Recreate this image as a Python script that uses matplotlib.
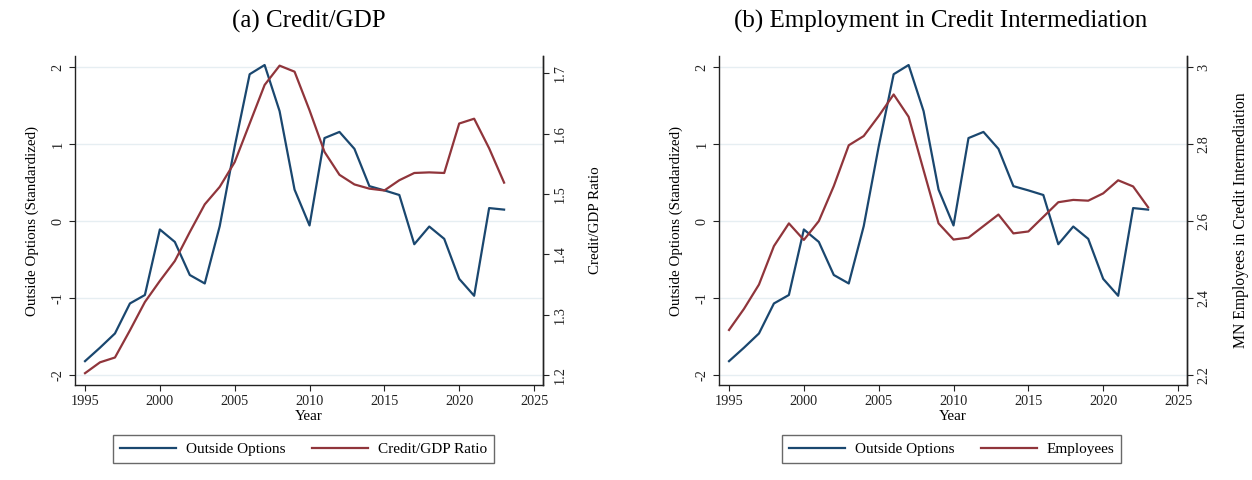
import matplotlib
matplotlib.use("Agg")
import matplotlib.pyplot as plt

plt.rcParams['font.family'] = ['Liberation Serif', 'DejaVu Serif']

years = list(range(1995, 2024))

outside_options = [-1.82, -1.645, -1.46, -1.07, -0.96, -0.108, -0.27, -0.70, -0.81, -0.065,
                   0.97, 1.91, 2.03, 1.43, 0.41, -0.056, 1.08, 1.16, 0.94, 0.455,
                   0.40, 0.34, -0.30, -0.07, -0.23, -0.75, -0.97, 0.17, 0.15]

credit_gdp = [1.203, 1.221, 1.229, 1.274, 1.321, 1.356, 1.389, 1.437, 1.483, 1.512,
              1.553, 1.617, 1.681, 1.713, 1.703, 1.639, 1.570, 1.532, 1.516, 1.509,
              1.506, 1.523, 1.535, 1.536, 1.535, 1.617, 1.625, 1.576, 1.519]

employees = [2.317, 2.372, 2.435, 2.535, 2.594, 2.551, 2.600, 2.691, 2.797, 2.821,
             2.873, 2.929, 2.871, 2.732, 2.594, 2.552, 2.557, 2.587, 2.617, 2.568,
             2.573, 2.611, 2.649, 2.655, 2.653, 2.672, 2.706, 2.690, 2.636]

x_ticks = [1995, 2000, 2005, 2010, 2015, 2020, 2025]
left_ticks = [-2, -1, 0, 1, 2]
credit_ticks = [1.2, 1.3, 1.4, 1.5, 1.6, 1.7]
employee_ticks = [2.2, 2.4, 2.6, 2.8, 3.0]

BLUE = '#1a476f'
RED = '#90353b'
GRID = '#e6eef2'
W, H = 1252, 480

fig = plt.figure(figsize=(W / 100, H / 100), dpi=100)
fig.patch.set_facecolor('white')


def px_axes(x0, y0, x1, y1):
    return fig.add_axes([x0 / W, 1 - y1 / H, (x1 - x0) / W, (y1 - y0) / H])


def style_axis(ax):
    ax.spines['top'].set_visible(False)
    for side in ('left', 'bottom', 'right'):
        ax.spines[side].set_color('#222222')
        ax.spines[side].set_linewidth(1.0)
    ax.tick_params(axis='both', direction='out', length=4.5, width=0.8,
                   colors='#222222', labelsize=10.3, pad=3)


def panel(x0, x1, title, title_x, right_vals, right_ticks, right_lim, right_label,
          right_name, right_fmt, right_size):
    ax = px_axes(x0, 56, x1, 385)
    ax.set_xlim(1994.33, 2025.6)
    ax.set_ylim(-2.13, 2.147)
    ax.set_yticks(left_ticks)
    ax.set_yticklabels([str(t) for t in left_ticks], rotation=90, va='center')
    ax.set_xticks(x_ticks)
    ax.grid(axis='y', color=GRID, linewidth=1.0)
    ax.set_axisbelow(True)
    style_axis(ax)
    l1, = ax.plot(years, outside_options, color=BLUE, linewidth=1.6, label='Outside Options')
    ax.set_xlabel('Year', fontsize=10.8, labelpad=1)
    ax.set_ylabel('Outside Options (Standardized)', fontsize=10.8, labelpad=9)

    ax2 = ax.twinx()
    ax2.set_ylim(*right_lim)
    ax2.set_yticks(right_ticks)
    ax2.set_yticklabels([right_fmt(t) for t in right_ticks], rotation=90, va='center')
    style_axis(ax2)
    ax2.spines['left'].set_visible(False)
    ax2.spines['bottom'].set_visible(False)
    l2, = ax2.plot(years, right_vals, color=RED, linewidth=1.6, label=right_name)
    ax2.set_ylabel(right_label, fontsize=right_size, labelpad=16)

    fig.text(title_x / W, 1 - 21 / H, title, ha='center', va='center', fontsize=18)
    return ax, [l1, l2]


ax_a, h_a = panel(75, 543, '(a) Credit/GDP', 309, credit_gdp, credit_ticks, (1.1834, 1.729),
                  'Credit/GDP Ratio', 'Credit/GDP Ratio', lambda t: f'{t:.1f}', 10.8)
ax_b, h_b = panel(719, 1187, '(b) Employment in Credit Intermediation', 941, employees,
                  employee_ticks, (2.174, 3.029), 'MN Employees in Credit Intermediation',
                  'Employees', lambda t: f'{t:g}', 11.3)


def add_legend(handles, x0):
    leg = fig.legend(handles, [h.get_label() for h in handles], ncol=2,
                     bbox_to_anchor=(x0 / W, 1 - 449 / H), loc='center left',
                     fontsize=11, frameon=True, fancybox=False,
                     handlelength=3.7, handletextpad=0.6, columnspacing=1.75,
                     borderaxespad=0, borderpad=0.45)
    leg.get_frame().set_edgecolor('#444444')
    leg.get_frame().set_linewidth(1.0)


add_legend(h_a, 113)
add_legend(h_b, 782)

fig.savefig('out.png', dpi=100, facecolor='white')
